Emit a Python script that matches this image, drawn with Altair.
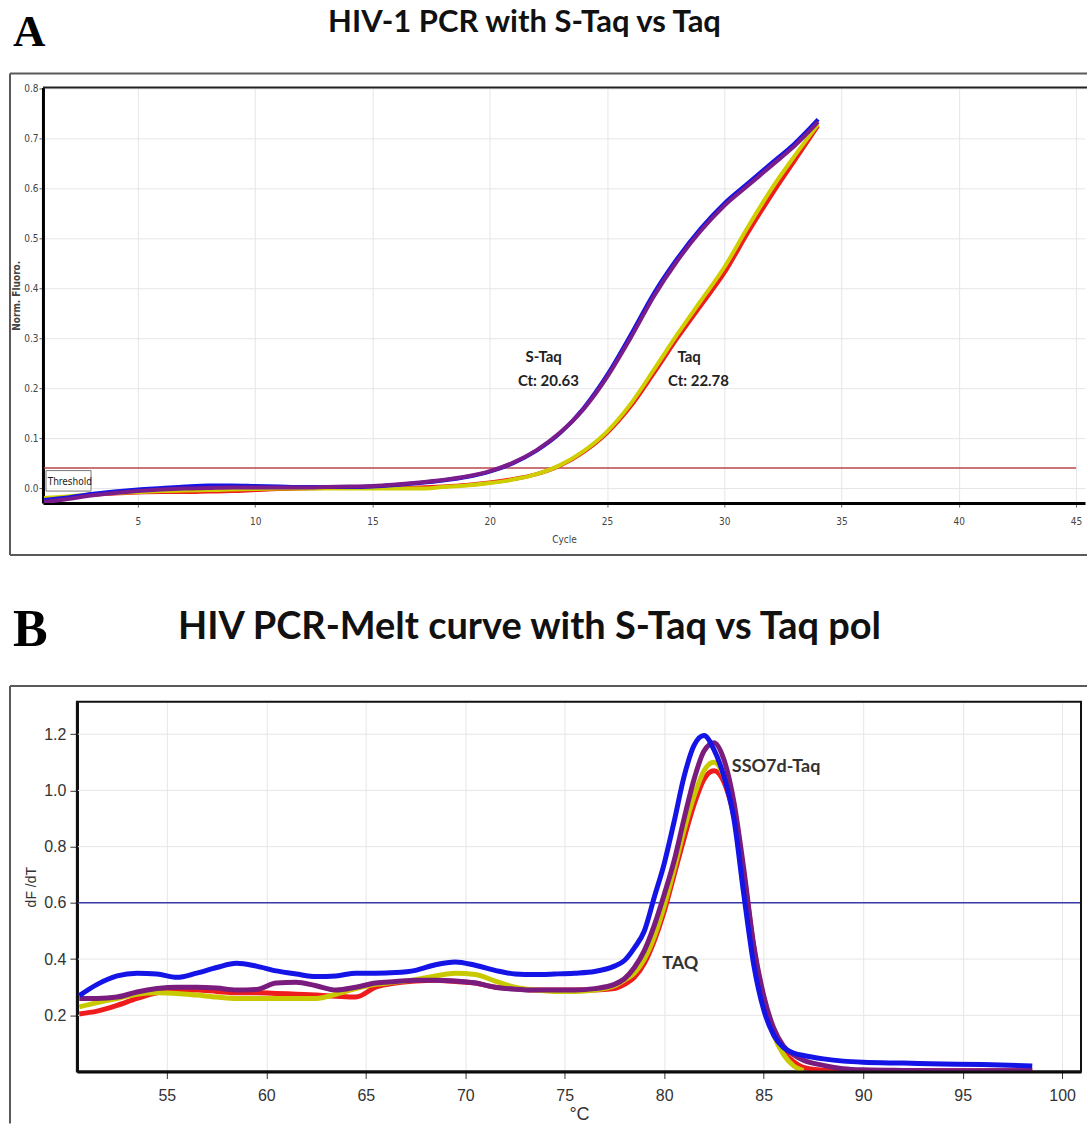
import altair as alt
import pandas as pd

# ---------------- Panel A: amplification curves ----------------
title_a = "HIV-1 PCR with S-Taq vs Taq"
cycles = list(range(1, 35))
a_blue = [-0.024, -0.019, -0.012, -0.007, -0.003, 0.0, 0.003, 0.005, 0.005, 0.004,
          0.003, 0.002, 0.002, 0.002, 0.003, 0.006, 0.010, 0.015, 0.022, 0.033,
          0.050, 0.075, 0.110, 0.160, 0.226, 0.306, 0.390, 0.460, 0.520, 0.570,
          0.610, 0.650, 0.690, 0.738]
a_purple = [-0.028, -0.022, -0.015, -0.010, -0.006, -0.003, -0.001, 0.0, 0.001, 0.001,
            0.001, 0.001, 0.002, 0.003, 0.004, 0.007, 0.011, 0.016, 0.023, 0.034,
            0.051, 0.076, 0.111, 0.158, 0.222, 0.300, 0.384, 0.455, 0.515, 0.565,
            0.605, 0.645, 0.685, 0.733]
a_red = [-0.026, -0.020, -0.014, -0.011, -0.009, -0.008, -0.008, -0.007, -0.006, -0.004,
         -0.002, -0.001, 0.0, 0.0, 0.0, 0.0, 0.001, 0.003, 0.006, 0.011,
         0.018, 0.028, 0.045, 0.072, 0.110, 0.163, 0.230, 0.300, 0.365, 0.430,
         0.510, 0.585, 0.655, 0.725]
a_yellow = [-0.020, -0.017, -0.013, -0.010, -0.008, -0.006, -0.005, -0.004, -0.003, -0.002,
            -0.001, -0.001, -0.001, -0.001, -0.001, -0.001, -0.001, 0.002, 0.005, 0.010,
            0.017, 0.028, 0.046, 0.074, 0.113, 0.168, 0.237, 0.308, 0.375, 0.442,
            0.522, 0.598, 0.665, 0.728]
a_series = [("red", a_red, "#ee1c1c"), ("yellow", a_yellow, "#cfcf00"),
            ("blue", a_blue, "#1414e6"), ("purple", a_purple, "#7a1c8c")]
a_threshold = 0.04
a_threshold_span = [1, 45]
a_xticks = [5, 10, 15, 20, 25, 30, 35, 40, 45]
a_yticks = [0.0, 0.1, 0.2, 0.3, 0.4, 0.5, 0.6, 0.7, 0.8]
a_labels = ["S-Taq", "Ct: 20.63", "Taq", "Ct: 22.78"]
a_label_x = [22.3, 22.5, 28.5, 28.9]
a_label_y = [0.262, 0.214, 0.262, 0.214]
a_xdomain = [0.95, 45.38]
a_ydomain = [-0.03, 0.802]

# ---------------- Panel B: melt curves ----------------
title_b = "HIV PCR-Melt curve with S-Taq vs Taq pol"
temps = [50.6, 51.5, 52.5, 53.5, 54.5, 55.5, 56.5, 57.5, 58.5, 59.5, 60.5, 61.5, 62.5,
         63.5, 64.5, 65.5, 66.5, 67.5, 68.5, 69.5, 70.5, 71.5, 72.5, 73.5, 74.5, 75.5,
         76.5, 77.5, 78.0, 78.5, 79.0, 79.5, 80.0, 80.5, 81.0, 81.5, 82.0, 82.5, 83.0,
         83.5, 84.0, 84.5, 85.0, 85.5, 86.0, 86.5, 87.0, 88.0, 89.0, 90.0, 92.0, 94.0,
         96.0, 98.5]
b_blue = [0.27, 0.31, 0.34, 0.35, 0.347, 0.335, 0.35, 0.37, 0.385, 0.375, 0.358, 0.347, 0.338,
          0.34, 0.35, 0.35, 0.352, 0.36, 0.38, 0.39, 0.378, 0.36, 0.347, 0.345, 0.347, 0.35,
          0.356, 0.375, 0.395, 0.44, 0.50, 0.62, 0.74, 0.89, 1.05, 1.16, 1.195, 1.145, 1.05,
          0.90, 0.63, 0.38, 0.22, 0.13, 0.085, 0.066, 0.057, 0.045, 0.037, 0.033, 0.030, 0.027,
          0.025, 0.020]
b_purple = [0.26, 0.26, 0.265, 0.283, 0.295, 0.30, 0.30, 0.297, 0.29, 0.292, 0.315, 0.318, 0.305,
            0.29, 0.30, 0.315, 0.32, 0.325, 0.325, 0.322, 0.315, 0.30, 0.293, 0.29, 0.29, 0.29,
            0.295, 0.31, 0.33, 0.37, 0.43, 0.52, 0.63, 0.75, 0.90, 1.04, 1.14, 1.17, 1.11,
            0.96, 0.72, 0.45, 0.27, 0.155, 0.09, 0.06, 0.04, 0.022, 0.010, 0.006, 0.004, 0.003,
            0.003, 0.003]
b_red = [0.205, 0.215, 0.235, 0.26, 0.28, 0.288, 0.29, 0.285, 0.28, 0.28, 0.278, 0.275, 0.272,
         0.268, 0.265, 0.30, 0.315, 0.322, 0.325, 0.32, 0.315, 0.30, 0.295, 0.29, 0.29, 0.29,
         0.29, 0.295, 0.31, 0.335, 0.385, 0.465, 0.57, 0.70, 0.83, 0.95, 1.04, 1.07, 1.03,
         0.91, 0.70, 0.44, 0.26, 0.14, 0.07, 0.035, 0.015, 0.005, 0.003, 0.003, 0.003, 0.003,
         0.003, 0.003]
b_yellow = [0.23, 0.245, 0.26, 0.275, 0.28, 0.278, 0.272, 0.265, 0.26, 0.26, 0.26, 0.26, 0.26,
            0.275, 0.295, 0.31, 0.318, 0.327, 0.34, 0.35, 0.345, 0.322, 0.30, 0.29, 0.285, 0.285,
            0.29, 0.305, 0.325, 0.35, 0.40, 0.48, 0.59, 0.72, 0.86, 0.98, 1.07, 1.10, 1.05,
            0.92, 0.70, 0.44, 0.25, 0.13, 0.06, 0.02, 0.003]
b_series = [("red", b_red, "#ee1c1c"), ("yellow", b_yellow, "#c9c900"),
            ("purple", b_purple, "#7a1c7e"), ("blue", b_blue, "#1414e6")]
b_threshold = 0.6
b_xticks = [55, 60, 65, 70, 75, 80, 85, 90, 95, 100]
b_yticks = [0.2, 0.4, 0.6, 0.8, 1.0, 1.2]
b_labels = ["SSO7d-Taq", "TAQ"]
b_label_x = [83.4, 79.9]
b_label_y = [1.083, 0.384]
b_xdomain = [50.48, 100.95]
b_ydomain = [0.0, 1.315]

NARROW = "Liberation Sans Narrow, DejaVu Sans Condensed, sans-serif"
SANS = "Liberation Sans, Arial, sans-serif"
HEAD = "Lato, Open Sans, sans-serif"
SERIF = "Liberation Serif, Times New Roman, serif"

# ======================= Panel A =======================
WA, HA = 1043, 416
xA = alt.Scale(domain=a_xdomain, nice=False, zero=False)
yA = alt.Scale(domain=a_ydomain, nice=False, zero=False)
one = pd.DataFrame({"k": [0]})

pinA = alt.Chart(one).mark_rect(color="white").encode(
    x=alt.value(-43), x2=alt.value(-42), y=alt.value(-87), y2=alt.value(-86))
frameA_top = alt.Chart(one).mark_rule(color="#5a5a5a", strokeWidth=2).encode(
    x=alt.value(-33), x2=alt.value(1045), y=alt.value(-14))
frameA_bottom = alt.Chart(one).mark_rule(color="#5a5a5a", strokeWidth=2).encode(
    x=alt.value(-33), x2=alt.value(1045), y=alt.value(468))
frameA_left = alt.Chart(one).mark_rule(color="#5a5a5a", strokeWidth=2).encode(
    x=alt.value(-33), y=alt.value(-14), y2=alt.value(468))
borderA_top = alt.Chart(one).mark_rule(color="#222222", strokeWidth=2).encode(
    x=alt.value(0), x2=alt.value(1045), y=alt.value(0))

axA = alt.Chart(pd.DataFrame({"c": [a_xdomain[0]], "v": [0.0]})).mark_point(opacity=0).encode(
    x=alt.X("c:Q", scale=xA, axis=alt.Axis(
        values=a_xticks, title="Cycle", grid=True, gridColor="#e6e6e6",
        domainColor="black", domainWidth=3, tickColor="#666", tickSize=4,
        labelFont=NARROW, labelFontSize=10, labelColor="#444", labelPadding=9,
        titleFont=NARROW, titleFontSize=10, titleFontWeight="normal", titleColor="#444",
        titlePadding=8)),
    y=alt.Y("v:Q", scale=yA, axis=alt.Axis(
        values=a_yticks, format=".1f", title="Norm. Fluoro.", grid=True, gridColor="#e6e6e6",
        domainColor="black", domainWidth=3, tickColor="#666", tickSize=4,
        labelFont=NARROW, labelFontSize=10, labelColor="#444", labelPadding=1,
        titleFont=NARROW, titleFontSize=10, titleFontWeight="bold", titleColor="#444",
        titlePadding=2)))

thrA = alt.Chart(pd.DataFrame({"x1": [a_threshold_span[0]], "x2": [a_threshold_span[1]],
                               "y": [a_threshold]})).mark_rule(color="#b8464a", strokeWidth=1.5).encode(
    x=alt.X("x1:Q", scale=xA), x2="x2:Q", y=alt.Y("y:Q", scale=yA))

thrBox = alt.Chart(pd.DataFrame({"x1": [1.08], "x2": [3.0], "y1": [0.035], "y2": [-0.006]})).mark_rect(
    fill="white", fillOpacity=0.6, stroke="#777", strokeWidth=1).encode(
    x=alt.X("x1:Q", scale=xA), x2="x2:Q", y=alt.Y("y1:Q", scale=yA), y2="y2:Q")
thrText = alt.Chart(pd.DataFrame({"x": [1.15], "y": [0.013], "t": ["Threshold"]})).mark_text(
    align="left", baseline="middle", font=NARROW, fontSize=10, color="#222").encode(
    x=alt.X("x:Q", scale=xA), y=alt.Y("y:Q", scale=yA), text="t:N")

linesA = []
for name, vals, col in a_series:
    df = pd.DataFrame({"cycle": cycles, "value": vals})
    linesA.append(alt.Chart(df).mark_line(color=col, strokeWidth=4, interpolate="monotone",
                                          clip=True).encode(
        x=alt.X("cycle:Q", scale=xA), y=alt.Y("value:Q", scale=yA)))

annA = alt.Chart(pd.DataFrame({"x": a_label_x, "y": a_label_y, "t": a_labels})).mark_text(
    align="center", baseline="middle", font=HEAD, fontSize=15, fontWeight="bold", color="#222").encode(
    x=alt.X("x:Q", scale=xA), y=alt.Y("y:Q", scale=yA), text="t:N")

headA = alt.Chart(pd.DataFrame({"t": [title_a]})).mark_text(
    align="center", baseline="alphabetic", font=HEAD, fontSize=31, fontWeight="bold",
    color="#111", clip=False).encode(x=alt.value(482), y=alt.value(-55), text="t:N")
letterA = alt.Chart(pd.DataFrame({"t": ["A"]})).mark_text(
    align="left", baseline="alphabetic", font=SERIF, fontSize=45, fontWeight="bold",
    color="#000", clip=False).encode(x=alt.value(-30), y=alt.value(-41), text="t:N")

panelA = alt.layer(pinA, frameA_top, frameA_bottom, frameA_left, axA, thrBox, thrA, *linesA,
                   thrText, annA, borderA_top, headA, letterA).properties(width=WA, height=HA)

# ======================= Panel B =======================
WB, HB = 1039, 370
OFF = 34
xB = alt.Scale(domain=b_xdomain, range=[OFF, WB], nice=False, zero=False)
yB = alt.Scale(domain=b_ydomain, nice=False, zero=False)

pinB = alt.Chart(one).mark_rect(color="white").encode(
    x=alt.value(-43), x2=alt.value(-42), y=alt.value(-115), y2=alt.value(-114))
frameB_top = alt.Chart(one).mark_rule(color="#5a5a5a", strokeWidth=2).encode(
    x=alt.value(-33), x2=alt.value(1045), y=alt.value(-16))
frameB_left = alt.Chart(one).mark_rule(color="#5a5a5a", strokeWidth=2).encode(
    x=alt.value(-33), y=alt.value(-16), y2=alt.value(422))
borderB = alt.Chart(one).mark_rect(fillOpacity=0, stroke="#111", strokeWidth=2).encode(
    x=alt.value(OFF), x2=alt.value(WB), y=alt.value(0), y2=alt.value(HB))

gridB = alt.Chart(pd.DataFrame({"v": b_yticks})).mark_rule(color="#e6e6e6", strokeWidth=1).encode(
    x=alt.value(OFF), x2=alt.value(WB), y=alt.Y("v:Q", scale=yB))

axB = alt.Chart(pd.DataFrame({"c": [b_xdomain[0]], "v": [0.0]})).mark_point(opacity=0).encode(
    x=alt.X("c:Q", scale=xB, axis=alt.Axis(
        values=b_xticks, title="°C", grid=True, gridColor="#e6e6e6",
        domainColor="black", domainWidth=3, tickColor="#333", tickSize=7,
        labelFont=SANS, labelFontSize=16, labelColor="#333", labelPadding=9,
        titleFont=SANS, titleFontSize=18, titleFontWeight="normal", titleColor="#333",
        titlePadding=2)),
    y=alt.Y("v:Q", scale=yB, axis=alt.Axis(
        values=b_yticks, format=".1f", title="dF /dT", grid=False, offset=-OFF,
        domainColor="black", domainWidth=3, tickColor="#333", tickSize=7,
        labelFont=SANS, labelFontSize=16, labelColor="#333", labelPadding=4,
        titleFont=SANS, titleFontSize=14, titleFontWeight="normal", titleColor="#333",
        titlePadding=5)))

thrB = alt.Chart(pd.DataFrame({"x1": [b_xdomain[0]], "x2": [b_xdomain[1]],
                               "y": [b_threshold]})).mark_rule(color="#3a3aa6", strokeWidth=1.5).encode(
    x=alt.X("x1:Q", scale=xB), x2="x2:Q", y=alt.Y("y:Q", scale=yB))

linesB = []
for name, vals, col in b_series:
    df = pd.DataFrame({"temp": temps[:len(vals)], "value": vals})
    linesB.append(alt.Chart(df).mark_line(color=col, strokeWidth=5, interpolate="monotone",
                                          clip=True).encode(
        x=alt.X("temp:Q", scale=xB), y=alt.Y("value:Q", scale=yB)))

annB = alt.Chart(pd.DataFrame({"x": b_label_x, "y": b_label_y, "t": b_labels})).mark_text(
    align="left", baseline="middle", font=HEAD, fontSize=18, fontWeight="bold", color="#333").encode(
    x=alt.X("x:Q", scale=xB), y=alt.Y("y:Q", scale=yB), text="t:N")

headB = alt.Chart(pd.DataFrame({"t": [title_b]})).mark_text(
    align="center", baseline="alphabetic", font=HEAD, fontSize=38, fontWeight="bold",
    color="#111", clip=False).encode(x=alt.value(487), y=alt.value(-63), text="t:N")
letterB = alt.Chart(pd.DataFrame({"t": ["B"]})).mark_text(
    align="left", baseline="alphabetic", font=SERIF, fontSize=52, fontWeight="bold",
    color="#000", clip=False).encode(x=alt.value(-30), y=alt.value(-56), text="t:N")

panelB = alt.layer(pinB, frameB_top, frameB_left, gridB, axB, thrB, *linesB, annB, borderB,
                   headB, letterB).properties(width=WB, height=HB)

chart = alt.vconcat(panelA, panelB, spacing=31).properties(padding=0).configure_view(
    strokeWidth=0)

chart.save("out.html", embed_options={"renderer": "svg", "actions": False})
